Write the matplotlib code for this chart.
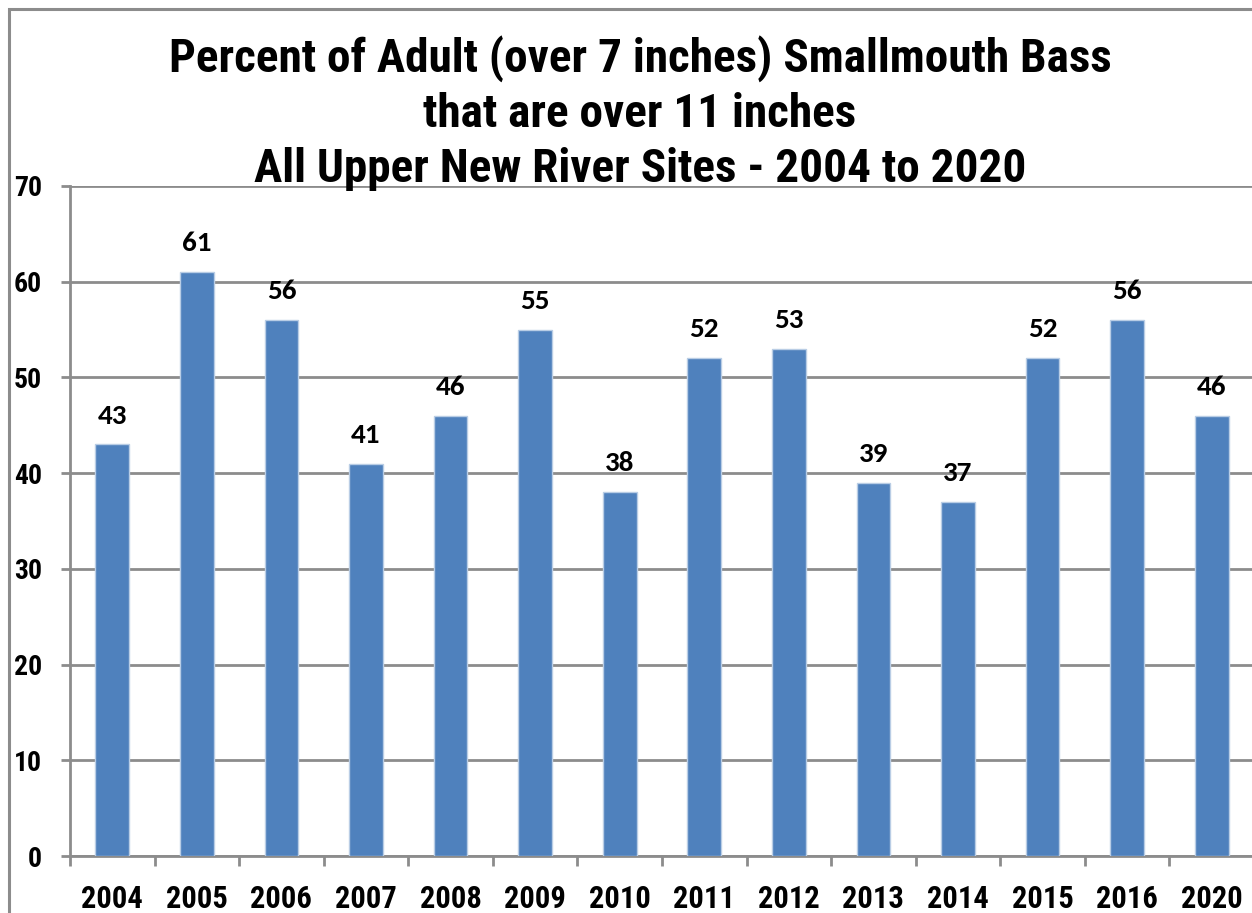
import matplotlib
matplotlib.use("Agg")
import matplotlib.pyplot as plt
from matplotlib.patches import Rectangle
from matplotlib import font_manager

years = ["2004", "2005", "2006", "2007", "2008", "2009", "2010",
         "2011", "2012", "2013", "2014", "2015", "2016", "2020"]
percent = [43, 61, 56, 41, 46, 55, 38, 52, 53, 39, 37, 52, 56, 46]
yticks = [0, 10, 20, 30, 40, 50, 60, 70]
title_lines = ["Percent of Adult (over 7 inches) Smallmouth Bass",
               "that are over 11 inches",
               "All Upper New River Sites - 2004 to 2020"]

names = {f.name for f in font_manager.fontManager.ttflist}
narrow = next((n for n in ["Roboto Condensed", "Archivo Narrow", "PT Sans Narrow", "Liberation Sans"]
               if n in names), "DejaVu Sans")
label_font = "Carlito" if "Carlito" in names else "Lato"

W, H = 1252, 913
fig = plt.figure(figsize=(W / 100, H / 100), dpi=100)
fig.patch.set_facecolor("white")

# outer chart frame
fig.add_artist(Rectangle((9 / W, -0.05), 1.2, (H - 9) / H + 0.05, transform=fig.transFigure,
                         fill=False, edgecolor="#8c8c8c", linewidth=2.2))

left, right = 70 / W, 1254 / W
bottom, top = (H - 856) / H, (H - 186) / H
ax = fig.add_axes([left, bottom, right - left, top - bottom])

x = list(range(len(years)))
ax.bar(x, percent, width=0.40, color="#4F81BD", edgecolor="#B9CDE5", linewidth=1.0, zorder=3)

ax.set_xlim(-0.5, len(years) - 0.5)
ax.set_ylim(0, 70)
ax.set_yticks(yticks)
ax.set_yticklabels([str(v) for v in yticks], fontfamily=narrow, fontweight="bold", fontsize=20)
ax.yaxis.grid(True, color="#8c8c8c", linewidth=2.0, zorder=0)
ax.tick_params(axis="y", length=6.5, width=2.0, color="#8c8c8c", pad=13.5)

ax.set_xticks(x)
ax.set_xticklabels(years, fontfamily=narrow, fontweight="bold", fontsize=22)
ax.tick_params(axis="x", length=0, pad=20.5)
# category boundary ticks
ax.set_xticks([i - 0.5 for i in range(len(years) + 1)], minor=True)
ax.tick_params(axis="x", which="minor", length=7.5, width=2.0, color="#8c8c8c")

for s in ["top", "right"]:
    ax.spines[s].set_visible(False)
for s in ["left", "bottom"]:
    ax.spines[s].set_color("#8c8c8c")
    ax.spines[s].set_linewidth(2.0)

for xi, v in zip(x, percent):
    ax.annotate(str(v), (xi, v), xytext=(0, 15), textcoords="offset points",
                ha="center", va="baseline", fontfamily=label_font, fontweight="bold",
                fontsize=21, color="black")

baselines = [72, 127, 182]
for line, b in zip(title_lines, baselines):
    fig.text(640 / W, (H - b) / H, line, ha="center", va="baseline",
             fontfamily=narrow, fontweight="bold", fontsize=34, color="black")

fig.savefig("out.png", dpi=100)
